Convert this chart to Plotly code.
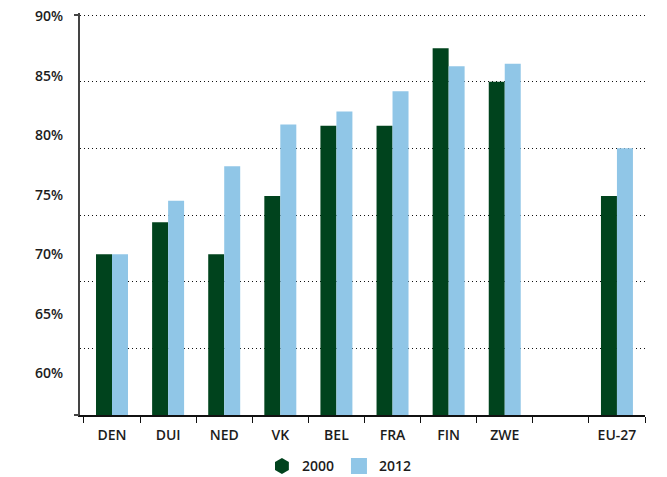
import plotly.graph_objects as go

categories = ["DEN", "DUI", "NED", "VK", "BEL", "FRA", "FIN", "ZWE", " ", "EU-27"]
values_2000 = [70.0, 72.7, 70.0, 74.9, 80.8, 80.8, 87.3, 84.5, None, 74.9]
values_2012 = [70.0, 74.5, 77.4, 80.9, 82.0, 83.7, 85.8, 86.0, None, 78.9]
series_names = ["2000", "2012"]
y_tick_values = [60, 65, 70, 75, 80, 85, 90]
y_tick_labels = [f"{v}%" for v in y_tick_values]
grid_steps = [0, 1, 2, 3, 4, 5, 6]

GREEN = "#00431d"
BLUE = "#90c6e7"
TXT = "#1c1c1c"
FONT = "Open Sans"

fig = go.Figure()
fig.add_trace(go.Bar(x=categories, y=values_2000, name=series_names[0],
                     marker=dict(color=GREEN, line=dict(width=0)), showlegend=False))
fig.add_trace(go.Bar(x=categories, y=values_2012, name=series_names[1],
                     marker=dict(color=BLUE, line=dict(width=0)), showlegend=False))
# legend entries with the reference's symbols
fig.add_trace(go.Scatter(x=[None], y=[None], mode="markers", name=series_names[0],
                         marker=dict(symbol="hexagon", size=17, color=GREEN)))
fig.add_trace(go.Scatter(x=[None], y=[None], mode="markers", name=series_names[1],
                         marker=dict(symbol="square", size=16, color=BLUE)))
# invisible trace to carry the grid axis
fig.add_trace(go.Scatter(x=[categories[0]], y=[grid_steps[0]], yaxis="y2", mode="markers",
                         marker=dict(opacity=0), showlegend=False, hoverinfo="skip"))

fig.update_layout(
    width=667, height=477,
    margin=dict(l=80, r=22, t=13, b=62, autoexpand=False),
    paper_bgcolor="white", plot_bgcolor="white",
    barmode="group", bargap=0.43, bargroupgap=0,
    font=dict(family=FONT, color=TXT, size=14),
    xaxis=dict(
        type="category", categoryorder="array", categoryarray=categories,
        showline=True, linecolor="#111", linewidth=1.5,
        ticks="outside", tickson="boundaries", ticklen=6, tickcolor="#111", tickwidth=1.2,
        showgrid=False,
        tickfont=dict(family=FONT, size=14, color=TXT, weight=600),
        ticklabelstandoff=6,
    ),
    yaxis=dict(
        range=[56.5, 90.27], tickvals=y_tick_values, ticktext=y_tick_labels,
        showgrid=False, zeroline=False, ticks="",
        showline=True, linecolor="#444", linewidth=2,
        tickfont=dict(family=FONT, size=14, color=TXT, weight=600),
        ticklabelstandoff=12,
    ),
    yaxis2=dict(
        overlaying="y", side="left", range=[0, 6.03],
        tickvals=grid_steps, showticklabels=False, ticks="",
        showgrid=True, griddash="1px,3px", gridcolor="#111", gridwidth=1,
        zeroline=False, showline=False,
        minor=dict(tickvals=[0, 6], ticks="outside", ticklen=5, tickcolor="#444",
                   tickwidth=1.5, showgrid=False),
    ),
    legend=dict(orientation="h", x=0.322, xanchor="left", y=-0.088, yanchor="top",
                font=dict(family=FONT, size=14, color=TXT, weight=600),
                bgcolor="rgba(0,0,0,0)", itemwidth=30),
)

fig.write_html("out.html", config={"displayModeBar": False},
               post_script="document.body.style.margin='0';")
